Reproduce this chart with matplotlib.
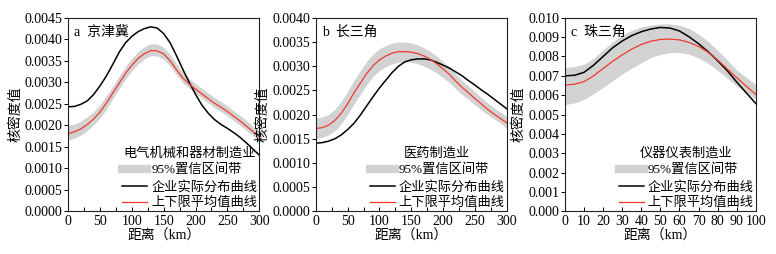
import numpy as np
import matplotlib
matplotlib.use("Agg")
import matplotlib.pyplot as plt
from matplotlib.ticker import MultipleLocator, FormatStrFormatter

plt.rcParams['font.family'] = ['Liberation Serif', 'Noto Sans CJK SC', 'DejaVu Sans']
plt.rcParams['font.size'] = 10

# distance grids (km)
x_ab = list(range(0, 301, 10))
x_c = list(range(0, 101, 5))

# a 京津冀 - 电气机械和器材制造业
a_actual = [0.00243, 0.00244, 0.00249, 0.00257, 0.00272, 0.00292, 0.00315, 0.00342, 0.0037, 0.00392, 0.00407,
            0.00418, 0.00425, 0.00429, 0.00426, 0.00413, 0.00392, 0.00362, 0.0033, 0.003, 0.00272,
            0.00247, 0.00228, 0.00213, 0.00202, 0.00193, 0.00183, 0.00172, 0.00159, 0.00145, 0.00131]
a_mean = [0.00181, 0.00185, 0.00192, 0.00202, 0.00215, 0.00231, 0.00252, 0.00275, 0.00298, 0.00321, 0.0034,
          0.00356, 0.00367, 0.00374, 0.00373, 0.00366, 0.0035, 0.00329, 0.0031, 0.00296, 0.00284,
          0.00273, 0.00262, 0.00251, 0.00242, 0.00232, 0.00221, 0.0021, 0.00198, 0.00186, 0.00173]
a_low = [0.00166, 0.0017, 0.00177, 0.00188, 0.00201, 0.00217, 0.00238, 0.00262, 0.00285, 0.00308, 0.00327,
         0.00343, 0.00355, 0.00362, 0.00361, 0.00354, 0.00338, 0.00318, 0.00299, 0.00286, 0.00274,
         0.00263, 0.00252, 0.00241, 0.00232, 0.00222, 0.00211, 0.002, 0.00188, 0.00176, 0.00164]
a_up = [0.002, 0.00203, 0.0021, 0.0022, 0.00232, 0.00248, 0.00269, 0.00291, 0.00314, 0.00337, 0.00356,
        0.00372, 0.00383, 0.0039, 0.00389, 0.00381, 0.00365, 0.00343, 0.00323, 0.00309, 0.00297,
        0.00286, 0.00275, 0.00264, 0.00255, 0.00245, 0.00234, 0.00223, 0.00211, 0.00198, 0.00185]

# b 长三角 - 医药制造业
b_actual = [0.00141, 0.00142, 0.00145, 0.0015, 0.00158, 0.00169, 0.00182, 0.00199, 0.00218, 0.00237, 0.00255,
            0.00271, 0.00287, 0.003, 0.00309, 0.00313, 0.00315, 0.00315, 0.00313, 0.00308, 0.00302,
            0.00296, 0.00288, 0.0028, 0.0027, 0.00261, 0.00251, 0.00242, 0.00232, 0.00222, 0.00212]
b_mean = [0.00171, 0.00173, 0.00178, 0.00188, 0.00203, 0.00222, 0.00245, 0.00265, 0.00285, 0.00301, 0.00313,
          0.00321, 0.00327, 0.0033, 0.0033, 0.00329, 0.00326, 0.00321, 0.00314, 0.00305, 0.00294,
          0.00283, 0.00269, 0.00256, 0.00245, 0.00233, 0.00222, 0.00211, 0.00201, 0.00192, 0.00183]
b_low = [0.00151, 0.00153, 0.00158, 0.00167, 0.00181, 0.002, 0.00222, 0.00242, 0.00262, 0.00279, 0.00291,
         0.00299, 0.00305, 0.00308, 0.00309, 0.00308, 0.00305, 0.003, 0.00294, 0.00286, 0.00276,
         0.00266, 0.00253, 0.00241, 0.00231, 0.0022, 0.0021, 0.002, 0.00191, 0.00182, 0.00172]
b_up = [0.00193, 0.00195, 0.002, 0.00211, 0.00227, 0.00248, 0.00271, 0.00291, 0.0031, 0.00325, 0.00336,
        0.00343, 0.00348, 0.0035, 0.0035, 0.00348, 0.00344, 0.00338, 0.0033, 0.00321, 0.00309,
        0.00298, 0.00284, 0.0027, 0.00259, 0.00247, 0.00235, 0.00224, 0.00214, 0.00205, 0.00196]

# c 珠三角 - 仪器仪表制造业
c_actual = [0.007, 0.00703, 0.00718, 0.00755, 0.008, 0.00845, 0.0088, 0.00908, 0.00928, 0.00942, 0.0095,
            0.00947, 0.00932, 0.00902, 0.00866, 0.00825, 0.00778, 0.00727, 0.00668, 0.00612, 0.00557]
c_mean = [0.00652, 0.00657, 0.0067, 0.007, 0.00738, 0.00775, 0.00808, 0.00838, 0.00862, 0.00879, 0.00888,
          0.0089, 0.00886, 0.00873, 0.00852, 0.00822, 0.00782, 0.00736, 0.0069, 0.00646, 0.00604]
c_low = [0.00552, 0.0056, 0.00578, 0.00607, 0.0064, 0.00675, 0.0071, 0.0074, 0.00768, 0.00795, 0.0081,
         0.0082, 0.0082, 0.00812, 0.00792, 0.00765, 0.00728, 0.00688, 0.00648, 0.00612, 0.00578]
c_up = [0.00743, 0.00748, 0.0076, 0.0079, 0.00835, 0.00875, 0.0091, 0.00935, 0.00952, 0.00963, 0.00968,
        0.00968, 0.00962, 0.00945, 0.00915, 0.00878, 0.00832, 0.00782, 0.0073, 0.00692, 0.00656]

panels = [
    ("a  京津冀", "电气机械和器材制造业", x_ab, a_actual, a_mean, a_low, a_up, 300, 50, 25, 0.0045, 0.0005, '%.4f'),
    ("b  长三角", "医药制造业", x_ab, b_actual, b_mean, b_low, b_up, 300, 50, 25, 0.0040, 0.0005, '%.4f'),
    ("c  珠三角", "仪器仪表制造业", x_c, c_actual, c_mean, c_low, c_up, 100, 10, None, 0.010, 0.001, '%.3f'),
]

fig = plt.figure(figsize=(7.76, 2.54), dpi=100)
lefts = [0.088, 0.407, 0.728]

for i, (tag, industry, x, act, mean, low, up, xmax, xmaj, xmin_, ymax, ystep, fmt) in enumerate(panels):
    ax = fig.add_axes([lefts[i], 0.168, 0.246, 0.762])
    ax.fill_between(x, low, up, color='#d2d2d2', lw=0)
    l_act, = ax.plot(x, act, color='black', lw=1.1)
    l_mean, = ax.plot(x, mean, color='#f03a2a', lw=0.9)
    ax.set_xlim(0, xmax)
    ax.set_ylim(0, ymax)
    ax.xaxis.set_major_locator(MultipleLocator(xmaj))
    if xmin_:
        ax.xaxis.set_minor_locator(MultipleLocator(xmin_))
    ax.yaxis.set_major_locator(MultipleLocator(ystep))
    ax.yaxis.set_major_formatter(FormatStrFormatter(fmt))
    ax.tick_params(axis='x', which='both', direction='in', length=3, width=0.7, pad=3)
    ax.tick_params(axis='y', direction='out', length=3, width=0.7, pad=1)
    for s in ax.spines.values():
        s.set_linewidth(0.8)
        s.set_color('#222222')
    ax.set_xlabel('距离（km）', labelpad=1)
    ax.set_ylabel('核密度值', labelpad=2)
    ax.text(0.03, 0.96, tag, transform=ax.transAxes, ha='left', va='top')
    h_band = plt.Line2D([], [], color='#d2d2d2', lw=6)
    ax.legend([h_band, l_act, l_mean], ['95%置信区间带', '企业实际分布曲线', '上下限平均值曲线'],
              title=industry, loc='lower right', frameon=False, handlelength=1.9,
              handletextpad=0.3, labelspacing=0.3, borderaxespad=0.05, borderpad=0.1,
              fontsize=9.5, title_fontsize=9.5)

fig.savefig('out.png', dpi=100)
